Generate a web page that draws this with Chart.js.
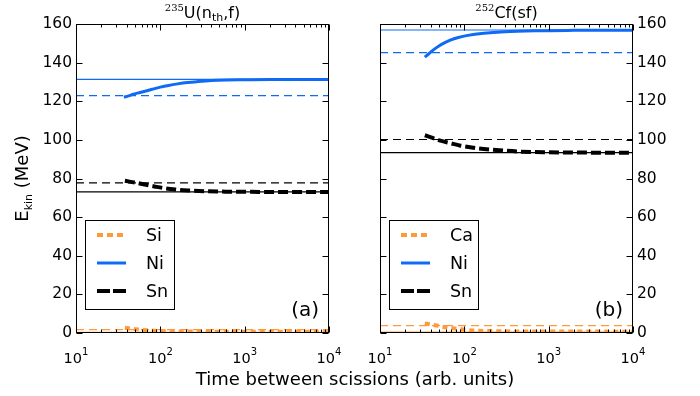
<!DOCTYPE html>
<html>
<head>
<meta charset="utf-8">
<script src="https://cdn.jsdelivr.net/npm/chart.js@4/dist/chart.umd.min.js"></script>
<style>
  body { margin: 0; background: #fff; }
  #wrap { position: relative; width: 700px; height: 396px; }
  #wrap canvas { position: absolute; left: 0; top: 0; }
</style>
</head>
<body>
<div id="wrap">
  <canvas id="uChart" width="700" height="396"></canvas>
  <canvas id="cfChart" width="700" height="396"></canvas>
</div>
<script>
// shared axes
const timeRange = [10, 10000];
const xTicks = [10, 100, 1000, 10000];
const xTickExponents = ['1', '2', '3', '4'];
const yTicks = [0, 20, 40, 60, 80, 100, 120, 140, 160];

// 235U(n_th,f)
const uLabels = ['Si', 'Ni', 'Sn'];
const uRefSolid = [0.4, 131.3, 73.1];
const uRefDashed = [1.7, 122.9, 77.7];
const uSiTime = [38, 50, 70, 100, 200, 500, 10000];
const uSiE = [2.7, 2.0, 1.4, 1.0, 0.8, 0.7, 0.7];
const uNiTime = [37, 42, 48, 56, 66, 80, 100, 125, 160, 210, 280, 400, 600, 1000, 2000, 10000];
const uNiE = [122.1, 122.8, 123.6, 124.4, 125.2, 126.2, 127.3, 128.2, 129.0, 129.7, 130.2, 130.7, 131.0, 131.1, 131.2, 131.2];
const uSnTime = [38, 50, 65, 85, 110, 150, 220, 350, 600, 1200, 3000, 10000];
const uSnE = [78.8, 77.9, 76.9, 75.9, 75.0, 74.3, 73.8, 73.4, 73.2, 73.1, 73.0, 73.0];

// 252Cf(sf)
const cfLabels = ['Ca', 'Ni', 'Sn'];
const cfRefSolid = [0.5, 156.9, 93.4];
const cfRefDashed = [3.8, 145.2, 100.2];
const cfCaTime = [34, 45, 60, 80, 110, 200, 500, 10000];
const cfCaE = [5.0, 4.0, 3.0, 2.2, 1.5, 1.0, 0.8, 0.7];
const cfNiTime = [34, 38, 43, 50, 58, 68, 85, 110, 170, 300, 700, 2000, 10000];
const cfNiE = [142.8, 144.6, 146.6, 148.6, 150.2, 151.6, 153.0, 154.1, 155.2, 156.0, 156.5, 156.7, 156.8];
const cfSnTime = [34, 42, 52, 68, 90, 130, 170, 260, 420, 900, 3000, 10000];
const cfSnE = [102.4, 101.0, 99.6, 98.3, 97.0, 95.9, 95.3, 94.6, 94.0, 93.6, 93.4, 93.3];

const colors = ['#ff9a3c', '#0f6af5', '#000000'];
const curveWidth = [4, 3, 4];
const curveDash = [[5, 4], [], [10, 4]];

const SANS = '"DejaVu Sans", sans-serif';

function refLine(value, color, dashed) {
  return {
    data: timeRange.map(t => ({ x: t, y: value })),
    borderColor: color,
    borderWidth: 1.2,
    borderDash: dashed ? [8, 5] : [],
    pointRadius: 0
  };
}

function curve(label, times, values, i) {
  return {
    label: label,
    data: times.map((t, k) => ({ x: t, y: values[k] })),
    borderColor: colors[i],
    borderWidth: curveWidth[i],
    borderDash: curveDash[i],
    cubicInterpolationMode: 'monotone',
    pointRadius: 0
  };
}

function buildDatasets(labels, refSolid, refDashed, curves) {
  const sets = [];
  labels.forEach((lab, i) => {
    sets.push(refLine(refSolid[i], colors[i], false));
    sets.push(refLine(refDashed[i], colors[i], true));
    sets.push(curve(lab, curves[i][0], curves[i][1], i));
  });
  return sets;
}

// draw a row of text pieces (own font and vertical shift each)
function richText(ctx, parts, x, y, align) {
  let total = 0;
  parts.forEach(p => { ctx.font = p.font; p.w = ctx.measureText(p.t).width; total += p.w; });
  let cx = align === 'center' ? x - total / 2 : x;
  ctx.textAlign = 'left';
  ctx.textBaseline = 'alphabetic';
  parts.forEach(p => { ctx.font = p.font; ctx.fillText(p.t, cx, y + (p.dy || 0)); cx += p.w; });
}

// inward ticks on all four sides, the frame and the 10^n labels
const frameTicks = {
  id: 'frameTicks',
  afterDatasetsDraw(chart) {
    const { ctx, chartArea: a, scales: { x, y } } = chart;
    ctx.save();
    ctx.strokeStyle = '#000';
    ctx.lineWidth = 1;
    ctx.beginPath();
    const left = Math.round(a.left) + 0.5, right = Math.round(a.right) - 0.5;
    const top = Math.round(a.top) + 0.5, bottom = Math.round(a.bottom) - 0.5;
    for (let d = 0; d < xTicks.length; d++) {
      for (let m = 1; m <= 9; m++) {
        const v = xTicks[d] * m;
        if (v > timeRange[1]) break;
        const len = m === 1 ? 6 : 3;
        const px = Math.round(x.getPixelForValue(v)) + 0.5;
        ctx.moveTo(px, bottom); ctx.lineTo(px, bottom - len);
        ctx.moveTo(px, top); ctx.lineTo(px, top + len);
      }
    }
    yTicks.forEach(v => {
      const py = Math.round(y.getPixelForValue(v)) + 0.5;
      ctx.moveTo(left, py); ctx.lineTo(left + 6, py);
      ctx.moveTo(right, py); ctx.lineTo(right - 6, py);
    });
    ctx.stroke();
    ctx.strokeRect(left, top, right - left, bottom - top);

    ctx.fillStyle = '#000';
    xTicks.forEach((v, i) => {
      richText(ctx, [
        { t: '10', font: '14.5px ' + SANS },
        { t: xTickExponents[i], font: '10px ' + SANS, dy: -8 }
      ], x.getPixelForValue(v), a.bottom + 30, 'center');
    });
    ctx.restore();
  }
};

// titles, panel tag and in-plot legend
const annotations = {
  id: 'annotations',
  afterDraw(chart, args, opts) {
    const { ctx, chartArea: a } = chart;
    ctx.save();
    ctx.fillStyle = '#000';
    const mid = (a.left + a.right) / 2;
    richText(ctx, opts.title, mid, 18, 'center');

    ctx.font = '20px ' + SANS;
    ctx.textAlign = 'right';
    ctx.textBaseline = 'alphabetic';
    ctx.fillText(opts.tag, a.right - 10, a.bottom - 17);

    // legend box
    const bx = a.left + 9, by = a.top + 196, bw = 89, bh = 89;
    ctx.fillStyle = '#fff';
    ctx.fillRect(bx, by, bw, bh);
    ctx.strokeStyle = '#000';
    ctx.lineWidth = 1;
    ctx.strokeRect(bx + 0.5, by + 0.5, bw, bh);
    const items = chart.data.datasets.filter(d => d.label);
    items.forEach((d, i) => {
      const ly = by + 15 + i * 28;
      ctx.beginPath();
      ctx.strokeStyle = d.borderColor;
      ctx.lineWidth = d.borderWidth;
      ctx.setLineDash(d.borderDash.length ? (i === 2 ? [13, 3] : [6, 4]) : []);
      ctx.moveTo(bx + 12, ly);
      ctx.lineTo(bx + 41, ly);
      ctx.stroke();
      ctx.setLineDash([]);
      ctx.fillStyle = '#000';
      ctx.font = '17.5px ' + SANS;
      ctx.textAlign = 'left';
      ctx.textBaseline = 'middle';
      ctx.fillText(d.label, bx + 61, ly + 1);
    });

    if (opts.axisTitles) {
      ctx.fillStyle = '#000';
      ctx.font = '18px ' + SANS;
      ctx.textAlign = 'center';
      ctx.textBaseline = 'alphabetic';
      ctx.fillText('Time between scissions (arb. units)', 355, 385);
      ctx.save();
      ctx.translate(28, (a.top + a.bottom) / 2);
      ctx.rotate(-Math.PI / 2);
      richText(ctx, [
        { t: 'E', font: '18px ' + SANS },
        { t: 'kin', font: '11px ' + SANS, dy: 4 },
        { t: ' (MeV)', font: '18px ' + SANS }
      ], 0, 0, 'center');
      ctx.restore();
    }
    ctx.restore();
  }
};

function makePanel(id, side, datasets, ann, padLeft, padRight, yWidth) {
  return new Chart(document.getElementById(id), {
    type: 'line',
    data: { datasets: datasets },
    plugins: [frameTicks, annotations],
    options: {
      responsive: false,
      animation: false,
      layout: { padding: { left: padLeft, right: padRight, top: 24, bottom: 0 } },
      plugins: {
        legend: { display: false },
        tooltip: { enabled: false },
        annotations: ann
      },
      scales: {
        x: {
          type: 'logarithmic',
          min: timeRange[0],
          max: timeRange[1],
          afterBuildTicks: s => { s.ticks = xTicks.map(v => ({ value: v })); },
          afterFit: s => { s.height = 63; },
          grid: { display: false, drawTicks: false },
          border: { display: false },
          ticks: { display: false }
        },
        y: {
          position: side,
          min: 0,
          max: 160,
          afterBuildTicks: s => { s.ticks = yTicks.map(v => ({ value: v })); },
          afterFit: s => { s.width = yWidth; },
          grid: { display: false, drawTicks: false },
          border: { display: false },
          ticks: {
            padding: 4,
            color: '#000',
            font: { family: SANS, size: 15.5 }
          }
        }
      }
    }
  });
}

makePanel('uChart', 'left',
  buildDatasets(uLabels, uRefSolid, uRefDashed, [[uSiTime, uSiE], [uNiTime, uNiE], [uSnTime, uSnE]]),
  {
    title: [
      { t: '235', font: '10px "DejaVu Serif", serif', dy: -7 },
      { t: 'U(n', font: '16px ' + SANS },
      { t: 'th', font: '11px ' + SANS, dy: 3 },
      { t: ',f)', font: '16px ' + SANS }
    ],
    tag: '(a)',
    axisTitles: true
  },
  0, 371, 76);

makePanel('cfChart', 'right',
  buildDatasets(cfLabels, cfRefSolid, cfRefDashed, [[cfCaTime, cfCaE], [cfNiTime, cfNiE], [cfSnTime, cfSnE]]),
  {
    title: [
      { t: '252', font: '10px "DejaVu Serif", serif', dy: -7 },
      { t: 'Cf(sf)', font: '16px ' + SANS }
    ],
    tag: '(b)',
    axisTitles: false
  },
  380, 0, 67);
</script>
</body>
</html>
